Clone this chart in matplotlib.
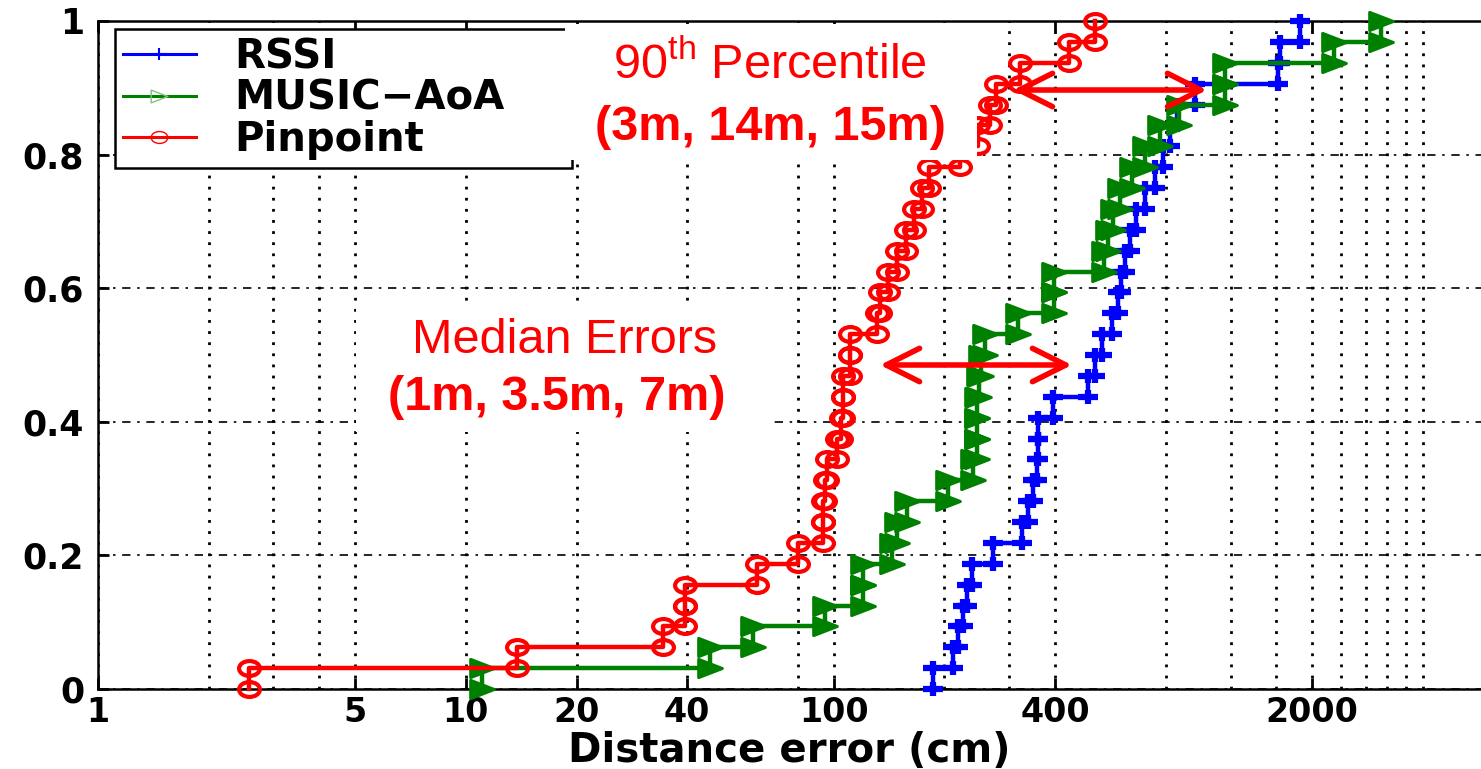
import numpy as np
import matplotlib
matplotlib.use("Agg")
import matplotlib.pyplot as plt
from matplotlib.path import Path
from matplotlib.patches import Rectangle, FancyArrowPatch
from matplotlib.lines import Line2D
from matplotlib.ticker import FixedLocator, NullFormatter

W, H = 1481, 769
plt.rcParams.update({"font.family": "DejaVu Sans", "font.weight": "bold",
                     "mathtext.fontset": "custom",
                     "mathtext.rm": "Liberation Sans:weight=normal"})

# sorted distance errors (cm), 32 runs per method -> empirical CDF
rssi = [186, 211, 218, 225, 231, 238, 271, 325, 338, 348, 357, 359, 359, 395, 492, 514,
        537, 571, 593, 605, 620, 640, 664, 703, 748, 786, 822, 859, 961, 1616, 1636, 1854]
music = [11.1, 46.1, 60.4, 94.8, 120, 120, 144, 149, 158, 205, 239, 245, 245, 245, 249, 252,
         258, 317, 397, 397, 544, 557, 575, 601, 648, 703, 772, 869, 1159, 1159, 2294, 3077]
pinpoint = [2.57, 13.8, 34.4, 39.4, 39.4, 61.9, 80.0, 93.6, 93.6, 94.8, 95.9, 102, 105, 106, 106, 111,
            111, 131, 134, 141, 149, 157, 165, 174, 182, 221, 247, 266, 276, 321, 437, 514]
labels = ["RSSI", "MUSIC\u2212AoA", "Pinpoint"]
colors = ["#0000ff", "#008000", "#ff0000"]

xt_major = [1, 5, 10, 20, 40, 100, 400, 2000]
xt_minor = [2, 3, 4, 80, 200, 300, 800, 1200, 1600, 2400, 2800, 3200, 3600, 4000]
yt = [0, 0.2, 0.4, 0.6, 0.8, 1]
yt_lab = ["0", "0.2", "0.4", "0.6", "0.8", "1"]


def stairs(vals):
    v = np.asarray(vals, float)
    lv = np.arange(len(v) + 1) / len(v)
    return np.repeat(v, 2), np.column_stack([lv[:-1], lv[1:]]).ravel()


# markers are a bit stretched sideways like in the original picture
c = Path.unit_circle()
ELL = Path(c.vertices * [1.4, 1.0], c.codes)
TRI = Path([[-1.3, 1], [-1.3, -1], [1.3, 0], [-1.3, 1]],
           [Path.MOVETO, Path.LINETO, Path.LINETO, Path.CLOSEPOLY])
PLUS = Path([[-1.4, 0], [1.4, 0], [0, -1], [0, 1]],
            [Path.MOVETO, Path.LINETO, Path.MOVETO, Path.LINETO])

fx = lambda px: px / W
fy = lambda py: 1 - py / H

fig = plt.figure(figsize=(W / 100, H / 100), dpi=100)
ax = fig.add_axes([fx(98), fy(689), 1 - fx(98), (689 - 21) / H])

styles = [dict(marker=PLUS, ms=15, mew=4.5, mfc="#0000ff"),
          dict(marker=TRI, ms=17, mew=2.2, mfc="#008000"),
          dict(marker=ELL, ms=15, mew=3.0, mfc="none")]
for data, col, st in zip([rssi, music, pinpoint], colors, styles):
    x, y = stairs(data)
    ax.plot(x, y, color=col, lw=3.2, mec=col, clip_on=False, zorder=3, **st)

ax.set_xscale("log")
ax.set_xlim(1, 10 ** ((W - 98) / 367.8))
ax.set_ylim(0, 1)
ax.xaxis.set_major_locator(FixedLocator(xt_major))
ax.xaxis.set_minor_locator(FixedLocator(xt_minor))
ax.xaxis.set_minor_formatter(NullFormatter())
ax.set_xticklabels([str(v) for v in xt_major])
ax.set_yticks(yt)
ax.set_yticklabels(yt_lab)
ax.set_axisbelow(True)
ax.grid(True, which="both", axis="x", ls=(0, (1, 3)), lw=2, color="k")
ax.grid(True, which="major", axis="y", ls=(0, (5, 4, 1.5, 4)), lw=1.2, color="k")
ax.tick_params(which="major", direction="in", length=8, width=2, top=True, right=False,
               labelsize=25, pad=10)
ax.tick_params(axis="x", which="major", labelsize=24, pad=5)
ax.tick_params(which="minor", length=0, top=True)
for s in ["left", "bottom", "top"]:
    ax.spines[s].set_linewidth(1.8)
ax.spines["right"].set_visible(False)
ax.set_xlabel("Distance error (cm)", fontsize=29, fontweight="bold")
ax.xaxis.set_label_coords(0.5, (689 - 731) / 668)

handles = [Line2D([], [], color=colors[0], lw=2.2, marker=PLUS, ms=12, mew=1.5, mfc=colors[0]),
           Line2D([], [], color=colors[1], lw=2.2, marker=TRI, ms=12, mew=1.0, mfc="none",
                  mec="#80c080"),
           Line2D([], [], color=colors[2], lw=2.2, marker=ELL, ms=12, mew=1.0, mfc="none")]
# legend runs on under the white text box, so make it wider than its text
leg = ax.legend(handles, labels, loc="upper left", mode="expand",
                bbox_to_anchor=(fx(115), fy(29), fx(572) - fx(115), 0),
                bbox_transform=fig.transFigure, frameon=True, fancybox=False, edgecolor="k",
                framealpha=1, prop=dict(family="DejaVu Sans", weight="bold", size=29),
                handlelength=1.8, handletextpad=0.95, borderpad=0.2, labelspacing=0.04,
                borderaxespad=0)
leg.get_frame().set_linewidth(1.8)

# white text boxes laid over the chart, as on the slide
for x0, y0, x1, y1 in [(565, 24, 977, 160), (356, 305, 773, 432)]:
    fig.add_artist(Rectangle((fx(x0), fy(y1)), fx(x1) - fx(x0), (y1 - y0) / H,
                             transform=fig.transFigure, facecolor="white", edgecolor="none",
                             zorder=5))

red = "#ff0000"
tk = dict(color=red, family="Liberation Sans", ha="center", va="center", zorder=6)
fig.text(fx(770), fy(65), r"90$^{\mathrm{th}}$ Percentile", fontsize=35, fontweight="normal", **tk)
fig.text(fx(770), fy(127), "(3m, 14m, 15m)", fontsize=35, fontweight="bold", **tk)
fig.text(fx(565), fy(340), "Median Errors", fontsize=35, fontweight="normal", **tk)
fig.text(fx(557), fy(397), "(1m, 3.5m, 7m)", fontsize=35, fontweight="bold", **tk)

for (xa, xb, yy) in [(880, 1072, 365), (1013, 1207, 90)]:
    fig.add_artist(FancyArrowPatch((fx(xa), fy(yy)), (fx(xb), fy(yy)), transform=fig.transFigure,
                                   arrowstyle="<->,head_length=24,head_width=12", mutation_scale=1,
                                   color=red, lw=4, shrinkA=0, shrinkB=0, zorder=7,
                                   capstyle="round", joinstyle="round"))

fig.savefig("out.png", dpi=100)
